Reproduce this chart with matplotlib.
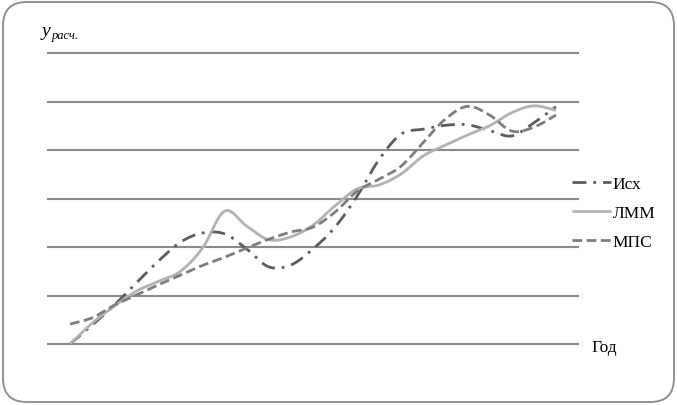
import numpy as np
import matplotlib
matplotlib.use('Agg')
from matplotlib import pyplot as plt
from matplotlib.patches import FancyBboxPatch

# values (units = gridline steps), half-period steps
steps = list(range(23))
ish = [0.00, 0.39, 0.80, 1.26, 1.71, 2.10, 2.29, 2.27, 1.96, 1.59, 1.63, 1.96,
       2.41, 3.05, 3.81, 4.33, 4.43, 4.51, 4.52, 4.40, 4.29, 4.56, 4.89]
lmm = [0.00, 0.43, 0.78, 1.09, 1.29, 1.50, 1.98, 2.74, 2.43, 2.15, 2.21, 2.45,
       2.85, 3.20, 3.28, 3.51, 3.88, 4.10, 4.31, 4.50, 4.77, 4.91, 4.82]
mps = [0.41, 0.54, 0.80, 1.01, 1.22, 1.42, 1.62, 1.79, 1.98, 2.16, 2.31, 2.41,
       2.72, 3.15, 3.40, 3.67, 4.16, 4.64, 4.90, 4.72, 4.39, 4.47, 4.72]
labels = ['Исх', 'ЛММ', 'МПС']


def smooth(x, y, n=20):
  # catmull-rom, like the "smoothed line" option in spreadsheets
  x = np.asarray(x, float)
  y = np.asarray(y, float)
  px = np.concatenate([[2 * x[0] - x[1]], x, [2 * x[-1] - x[-2]]])
  py = np.concatenate([[2 * y[0] - y[1]], y, [2 * y[-1] - y[-2]]])
  xs, ys = [], []
  t = np.linspace(0, 1, n, endpoint=False)
  for i in range(1, len(px) - 2):
    for p, out in ((px, xs), (py, ys)):
      p0, p1, p2, p3 = p[i - 1], p[i], p[i + 1], p[i + 2]
      out.append(0.5 * (2 * p1 + (p2 - p0) * t + (2 * p0 - 5 * p1 + 4 * p2 - p3) * t ** 2
                        + (3 * p1 - p0 - 3 * p2 + p3) * t ** 3))
  xs.append([x[-1]])
  ys.append([y[-1]])
  return np.concatenate(xs), np.concatenate(ys)


W, H = 677, 406
fig = plt.figure(figsize=(W / 100, H / 100), dpi=100)
fig.patches.append(FancyBboxPatch((3 / W, 3 / H), (W - 6) / W, (H - 6) / H,
                                  boxstyle='round,pad=0,rounding_size=0.035',
                                  transform=fig.transFigure, fc='none', ec='#8a8a8a', lw=1.3,
                                  mutation_aspect=W / H, zorder=-1))

ax = fig.add_axes([48 / W, (H - 345) / H, 530 / W, 291 / H])
ax.set_xlim(-1, 23)
ax.set_ylim(0, 6)
for s in ax.spines.values():
  s.set_visible(False)
ax.set_xticks([])
ax.set_yticks([])
ax.patch.set_alpha(0)
for g in range(7):
  ax.axhline(g, color='#8a8a8a', lw=1.5, zorder=1, clip_on=False)

styles = [
  dict(color='#5c5c5c', lw=2.0, dashes=(5, 2.5, 1, 2.5)),
  dict(color='#b2b2b2', lw=2.0),
  dict(color='#7d7d7d', lw=2.0, dashes=(3.5, 1.6)),
]
for vals, lab, st in zip([ish, lmm, mps], labels, styles):
  sx, sy = smooth(steps, vals)
  ax.plot(sx, sy, label=lab, solid_capstyle='butt', dash_capstyle='butt', zorder=3, **st)

serif = 'Liberation Serif'
fig.legend(loc='center left', bbox_to_anchor=(556 / W, 1 - 214 / H), frameon=False,
           handlelength=2.25, handletextpad=0.1, labelspacing=0.75,
           prop={'family': serif, 'size': 12.5})

fig.text(591 / W, 1 - 348 / H, 'Год', family=serif, fontsize=12.5, va='center', ha='left')
fig.text(42 / W, 1 - 31 / H, 'у', family=serif, style='italic', fontsize=14, va='center')
fig.text(52 / W, 1 - 36 / H, 'расч.', family=serif, style='italic', fontsize=9, va='center')

fig.savefig('out.png', dpi=100)
